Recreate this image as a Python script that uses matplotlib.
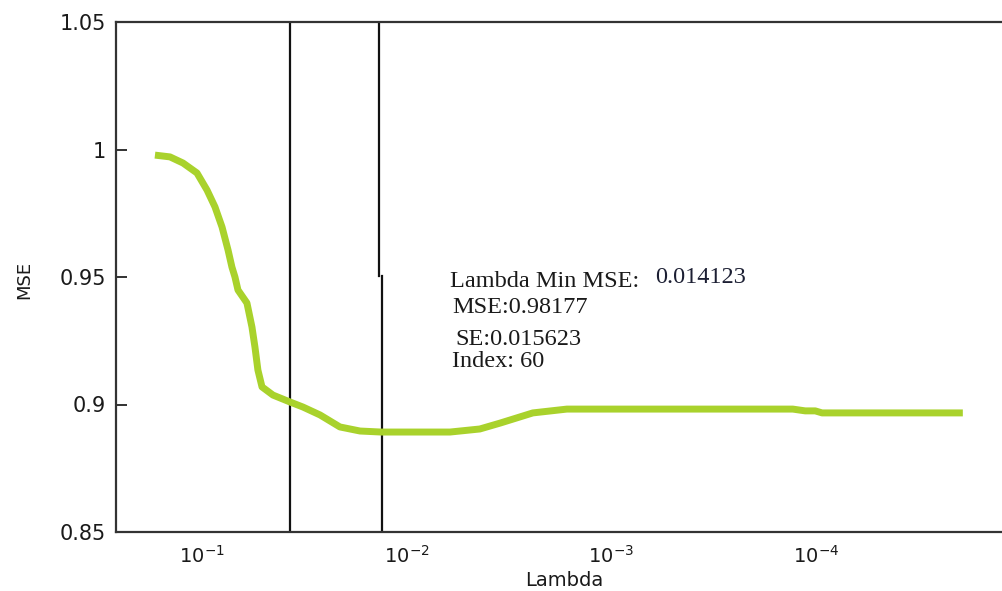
import matplotlib
matplotlib.use("Agg")
import matplotlib.pyplot as plt

# cross-validated MSE vs lambda
lambdas = [0.1697, 0.1433, 0.1238, 0.1058, 0.0945, 0.0864, 0.0798, 0.0746,
           0.0714, 0.0690, 0.0667, 0.0603, 0.0570, 0.0551, 0.0533, 0.0509,
           0.0450, 0.0372, 0.0321, 0.0265, 0.0212, 0.0169, 0.01335, 0.00861,
           0.00614, 0.00439, 0.00350, 0.00242, 0.00165, 0.000369, 0.000130,
           0.000113, 0.000101, 0.0000935, 0.0000389, 0.0000192]
mse = [0.9978, 0.9971, 0.9947, 0.9908, 0.9841, 0.9775, 0.9696, 0.9606,
       0.9539, 0.9500, 0.9449, 0.9398, 0.9304, 0.9225, 0.9135, 0.9069,
       0.9037, 0.9010, 0.8990, 0.8959, 0.8912, 0.8896, 0.8892, 0.8892,
       0.8892, 0.8904, 0.8927, 0.8967, 0.8982, 0.8982, 0.8982,
       0.8975, 0.8975, 0.8967, 0.8967, 0.8967]

lambda_1se = 0.0372
lambda_min_upper = 0.0136
lambda_min_lower = 0.0132
line_break = 0.9502

xticks = [1e-1, 1e-2, 1e-3, 1e-4]
xticklabels = [r"$10^{-1}$", r"$10^{-2}$", r"$10^{-3}$", r"$10^{-4}$"]
yticks = [0.85, 0.9, 0.95, 1.0, 1.05]
yticklabels = ["0.85", "0.9", "0.95", "1", "1.05"]

W, H = 1003, 591
fig = plt.figure(figsize=(W / 100, H / 100), dpi=100)
ax = fig.add_axes([116 / W, 1 - 532 / H, 887 / W, 510 / H])

ax.plot(lambdas, mse, color="#a9d22c", lw=5, solid_capstyle="butt",
        solid_joinstyle="round", zorder=3)

ax.axvline(lambda_1se, color="#111111", lw=1.6, zorder=2)
ax.plot([lambda_min_upper, lambda_min_upper], [line_break, 1.05], color="#111111", lw=1.6, zorder=2)
ax.plot([lambda_min_lower, lambda_min_lower], [0.85, line_break], color="#111111", lw=1.6, zorder=2)

ax.set_xscale("log")
ax.set_xlim(0.263, 1.222e-5)
ax.set_ylim(0.85, 1.05)
ax.set_xticks(xticks)
ax.set_xticklabels(xticklabels)
ax.minorticks_off()
ax.set_yticks(yticks)
ax.set_yticklabels(yticklabels)

ax.tick_params(axis="x", length=0, pad=9, labelsize=14, labelcolor="#1a1a1a")
ax.tick_params(axis="y", direction="in", length=8, width=1.3, pad=7,
               labelsize=15, labelcolor="#1a1a1a", color="#222222")

for s in ["left", "bottom", "top"]:
    ax.spines[s].set_linewidth(1.6)
    ax.spines[s].set_color("#333333")
ax.spines["right"].set_visible(False)

fig.text(24 / W, 1 - 280 / H, "MSE", rotation=90, ha="center", va="center",
         fontsize=13, color="#1a1a1a")
fig.text(564 / W, 1 - 580 / H, "Lambda", ha="center", va="center",
         fontsize=14, color="#1a1a1a")

serif = "Liberation Serif"
fs = 17.5
fig.text(450 / W, 1 - 287 / H, "Lambda Min MSE: ", family=serif, fontsize=fs,
         color="#1a1a1a", va="baseline")
fig.text(655 / W, 1 - 283 / H, "0.014123", family=serif, fontsize=fs,
         color="#1c1f33", va="baseline")
fig.text(452 / W, 1 - 313 / H, "MSE:0.98177", family=serif, fontsize=fs,
         color="#1a1a1a", va="baseline")
fig.text(455 / W, 1 - 345 / H, "SE:0.015623", family=serif, fontsize=fs,
         color="#1a1a1a", va="baseline")
fig.text(452 / W, 1 - 367 / H, "Index: 60", family=serif, fontsize=fs,
         color="#1a1a1a", va="baseline")

fig.savefig("out.png", dpi=100)
